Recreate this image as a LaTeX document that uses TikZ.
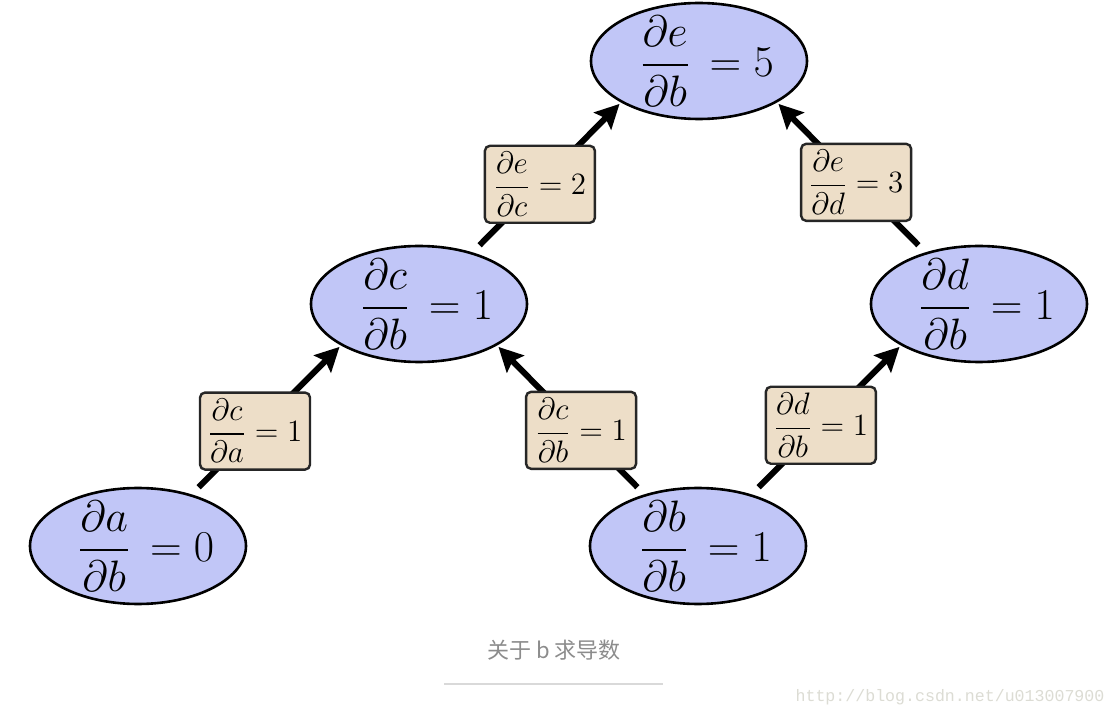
\RequirePackage{fix-cm}
\documentclass[tikz,border=0pt]{standalone}
\usepackage{amsmath}
\usepackage{fontspec}
\newfontfamily\cjk{Noto Sans CJK SC}
\newfontfamily\wmfont{Liberation Mono}
\usetikzlibrary{arrows.meta,shapes.geometric}
\definecolor{varblue}{RGB}{193,198,247}
\definecolor{gradtan}{RGB}{237,222,200}
\newcommand{\vargrad}[3]{$\kern8pt\dfrac{\partial #1}{\partial #2}\,=#3$}
\begin{document}
\begin{tikzpicture}[x=0.5pt,y=-0.5pt,
	var/.style={ellipse,draw=black,line width=1.3pt,fill=varblue,inner sep=-10pt,
		minimum width=108pt,minimum height=58pt,font=\fontsize{22}{26}\selectfont},
	grad/.style={rectangle,rounded corners=2.5pt,draw=black!85,line width=1.2pt,fill=gradtan,
		inner sep=0pt,minimum width=55pt,minimum height=38.5pt,font=\fontsize{15.5}{18}\selectfont},
	flow/.style={line width=3pt,-{Stealth[length=12pt,width=12pt,inset=2pt]},
		shorten <=5pt,shorten >=1pt}]
		\fill[white] (0,0) rectangle (1116,717);
		\useasboundingbox (0,0) rectangle (1116,717);
		%variables
		\node[var] (e) at (699,61) {\vargrad{e}{b}{5}};
		\node[var] (c) at (419,304) {\vargrad{c}{b}{1}};
		\node[var] (d) at (979,304) {\vargrad{d}{b}{1}};
		\node[var] (a) at (138,546) {\vargrad{a}{b}{0}};
		\node[var] (b) at (698,546) {\vargrad{b}{b}{1}};
		%edges with local derivatives
		\draw[flow] (a.44) -- (c.208) node[grad,pos=0.425] (ca) {$\dfrac{\partial c}{\partial a}=1$};
		\draw[flow] (b.136) -- (c.332) node[grad,pos=0.43] (cb) {$\dfrac{\partial c}{\partial b}=1$};
		\draw[flow] (b.44) -- (d.208) node[grad,pos=0.464] (db) {$\dfrac{\partial d}{\partial b}=1$};
		\draw[flow] (c.44) -- (e.208) node[grad,pos=0.454] (ec) {$\dfrac{\partial e}{\partial c}=2$};
		\draw[flow] (d.136) -- (e.332) node[grad,pos=0.467] (ed) {$\dfrac{\partial e}{\partial d}=3$};
		%caption
		\node[text=black!45,font=\cjk\fontsize{11}{13}\selectfont] (cap) at (554,650) {关于 b 求导数};
		\draw[black!15,line width=1pt] (444,684) -- (663,684);
		\node[text={rgb,255:red,220;green,220;blue,212},font=\wmfont\fontsize{8.3}{10}\selectfont] (wm) at (950,697) {http://blog.csdn.net/u013007900};
	\end{tikzpicture}
\end{document}
